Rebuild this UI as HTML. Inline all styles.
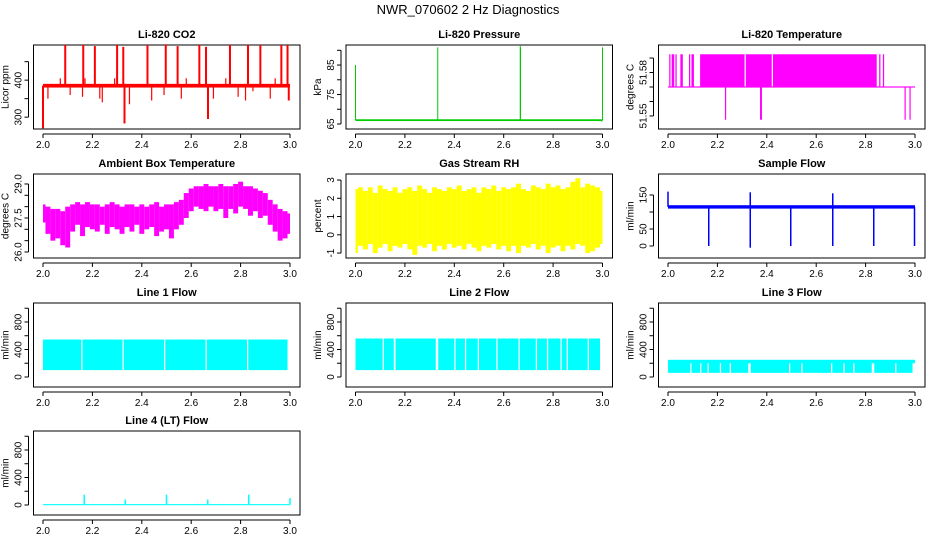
<!DOCTYPE html>
<html><head><meta charset="utf-8"><style>
html,body{margin:0;padding:0;background:#fff;}
svg{display:block;font-family:"Liberation Sans",Helvetica,Arial,sans-serif;}
</style></head><body>
<svg id="c" width="936" height="540" viewBox="0 0 936 540" xmlns="http://www.w3.org/2000/svg">
<text x="468" y="14" text-anchor="middle" font-size="13">NWR_070602  2 Hz Diagnostics</text>
</svg>
<script>
// ---- data ----
const xTicks=[2.0,2.2,2.4,2.6,2.8,3.0];
const xTickLabels=["2.0","2.2","2.4","2.6","2.8","3.0"];
const co2BaseLo=380, co2BaseHi=390;
const co2SpikeX=[2.0,2.09,2.163,2.21,2.30,2.325,2.33,2.423,2.497,2.545,2.633,2.66,2.668,2.757,2.83,2.88,2.965,2.99,2.995];
const co2SpikeV=[270,495,495,492,495,490,283,495,497,492,495,490,295,495,495,495,495,495,345];
const co2SmallX=[2.02,2.07,2.11,2.16,2.17,2.23,2.24,2.29,2.35,2.44,2.49,2.56,2.58,2.69,2.74,2.79,2.82,2.85,2.92,2.94];
const co2SmallV=[350,405,360,355,405,350,340,405,335,345,360,350,405,350,405,355,345,370,350,405];
const presBase=66.3;
const presSpikeX=[2.0,2.333,2.667,2.668,3.0,2.998];
const presSpikeV=[85,91,91.5,91,91,65.8];
const tempBase=51.560, tempTop=51.5713, tempLow=51.5487;
const tempBandStarts=[2.005,2.015,2.03,2.05,2.085,2.095,2.13,2.315,2.425,2.855,2.87];
const tempBandEnds=[2.01,2.025,2.035,2.06,2.09,2.105,2.31,2.42,2.845,2.86,2.875];
const tempDipX=[2.233,2.375,2.378,2.96,2.98];
const ambHi=[28.1,28.0,27.9,27.9,27.8,28.0,28.1,28.2,28.1,28.2,28.1,28.1,28.0,28.1,28.2,28.1,28.0,28.1,28.1,28.0,28.1,28.0,28.1,28.2,28.0,28.1,28.1,28.2,28.3,28.6,28.8,28.9,28.9,29.0,28.9,28.9,29.0,28.9,28.9,29.0,29.1,28.9,28.9,28.8,28.7,28.6,28.3,28.1,27.9,27.8,27.7];
const ambLo=[27.3,26.8,26.5,26.6,26.3,26.2,26.9,27.2,26.7,27.1,27.0,26.9,27.2,26.8,27.1,27.0,26.8,27.1,26.9,27.2,26.8,27.0,27.1,26.7,26.9,27.0,26.6,27.0,27.2,27.5,27.8,28.0,27.9,27.8,28.0,27.8,27.9,27.5,27.9,27.7,28.0,27.9,27.6,27.8,27.5,27.6,27.2,26.9,26.5,26.6,26.8];
const rhHi=[2.5,2.6,2.4,2.6,2.3,2.7,2.5,2.4,2.6,2.3,2.5,2.6,2.4,2.7,2.5,2.3,2.6,2.5,2.4,2.6,2.5,2.7,2.4,2.5,2.6,2.3,2.6,2.5,2.7,2.4,2.6,2.5,2.6,2.8,2.5,2.4,2.7,2.6,2.5,2.8,2.6,2.7,2.5,2.6,2.9,3.1,2.6,2.8,2.7,2.6,2.4];
const rhLo=[-1.0,-0.6,-0.8,-0.5,-1.0,-0.7,-0.5,-0.9,-0.6,-0.7,-0.5,-0.8,-1.1,-0.6,-0.7,-0.5,-0.9,-0.6,-0.8,-0.5,-0.7,-0.6,-0.8,-0.5,-0.7,-0.9,-0.6,-0.7,-0.5,-0.8,-0.6,-0.9,-0.6,-1.0,-0.6,-0.7,-0.5,-0.8,-0.6,-1.0,-0.7,-0.6,-0.9,-0.6,-0.8,-0.5,-0.6,-1.0,-0.9,-0.7,-0.5];
const sfBaseLo=110, sfBaseHi=120;
const sfDipX=[2.165,2.333,2.497,2.667,2.833,2.998];
const sfDipV=[0,-5,0,0,0,0];
const sfSpikeX=[2.0,2.333,2.667];
const sfSpikeV=[160,158,155];
const l1Starts=[2.0,2.16,2.327,2.495,2.663,2.831];
const l1Ends=[2.155,2.322,2.49,2.658,2.826,2.99];
const l1Lo=100, l1Hi=545;
const l2Starts=[2.0,2.115,2.162,2.335,2.405,2.448,2.5,2.575,2.665,2.735,2.78,2.835,2.86,2.945];
const l2Ends=[2.11,2.155,2.325,2.4,2.443,2.495,2.57,2.66,2.73,2.775,2.83,2.855,2.94,2.99];
const l2Lo=100, l2Hi=560;
const l3Starts=[2.0,2.095,2.135,2.165,2.215,2.255,2.335,2.495,2.545,2.665,2.715,2.755,2.835,2.925];
const l3Ends=[2.09,2.13,2.16,2.21,2.25,2.325,2.49,2.54,2.66,2.71,2.75,2.825,2.92,2.99];
const l3Lo=60, l3Hi=210, l3TopLo=200, l3TopHi=250;
const l4Base=5;
const l4SpikeX=[2.167,2.333,2.5,2.667,2.833,3.0];
const l4SpikeV=[150,80,150,80,150,100];

// ---- drawing ----
const svg=document.getElementById('c');
const NS='http://www.w3.org/2000/svg';
function mk(tag,attrs,parent){const e=document.createElementNS(NS,tag);for(const k in attrs)e.setAttribute(k,attrs[k]);(parent||svg).appendChild(e);return e;}
const colX=[33.5,346,658.5], rowY=[45,174,303,431], BW=266.5, BH=84;
function panel(col,row,title,ylab,ymin,ymax,yt,ytl,name){
  const x0=colX[col], y0=rowY[row], x1=x0+BW, y1=y0+BH;
  const g=mk('g',{});
  
  
  const P={g,x0,y0,x1,y1,
    sx:v=>x0+9.5+(v-2)*247,
    sy:v=>y1-(v-ymin)/(ymax-ymin)*BH};
  const t=mk('text',{x:(x0+x1)/2,y:y0-7,'text-anchor':'middle','font-size':11,'font-weight':'bold'},g);t.textContent=title;
  
  const r=mk('rect',{x:x0,y:y0,width:BW,height:BH,fill:'none',stroke:'#000','stroke-width':1},g);
  
  const xa=mk('g',{},g);
  mk('line',{x1:P.sx(2),x2:P.sx(3),y1:y1+5,y2:y1+5,stroke:'#000'},xa);
  xTicks.forEach((v,i)=>{const X=P.sx(v);mk('line',{x1:X,x2:X,y1:y1+5,y2:y1+9,stroke:'#000'},xa);
    const tx=mk('text',{x:X,y:y1+19,'text-anchor':'middle','font-size':10},xa);tx.textContent=xTickLabels[i];});
  const ya=mk('g',{},g);
  mk('line',{x1:x0-5,x2:x0-5,y1:P.sy(yt[0]),y2:P.sy(yt[yt.length-1]),stroke:'#000'},ya);
  yt.forEach((v,i)=>{const Y=P.sy(v);mk('line',{x1:x0-5,x2:x0-9,y1:Y,y2:Y,stroke:'#000'},ya);
    if(ytl[i]){const tx=mk('text',{x:0,y:0,'text-anchor':'middle','font-size':10,transform:`translate(${x0-12},${Y}) rotate(-90)`},ya);tx.textContent=ytl[i];}});
  const yl=mk('text',{x:0,y:0,'text-anchor':'middle','font-size':10,transform:`translate(${x0-25},${(y0+y1)/2}) rotate(-90)`},g);yl.textContent=ylab;
  
  P.data=mk('g',{},g);
  return P;
}
function vline(P,x,a,b,c,w){mk('line',{x1:P.sx(x),x2:P.sx(x),y1:P.sy(a),y2:P.sy(b),stroke:c,'stroke-width':w||1.2},P.data);}
function hband(P,xa,xb,a,b,c){const X=P.sx(xa),X2=P.sx(xb),Y=P.sy(b),Y2=P.sy(a);mk('rect',{x:X,y:Y,width:Math.max(0.8,X2-X),height:Math.max(1,Y2-Y),fill:c},P.data);}
function envelope(P,hi,lo,c){const n=hi.length;for(let i=0;i<n;i++){const xa=2+i/(n-1)-0.5/(n-1),xb=xa+1/(n-1);hband(P,Math.max(2,xa),Math.min(3,xb),lo[i],hi[i],c);}}

// CO2
let P=panel(0,0,'Li-820 CO2','Licor ppm',268,495,[300,350,400,450],['300','','400',''],'co2');
hband(P,2,3,co2BaseLo,co2BaseHi,'#f00');
co2SmallX.forEach((x,i)=>vline(P,x,385,co2SmallV[i],'#f00'));
co2SpikeX.forEach((x,i)=>vline(P,x,385,co2SpikeV[i],'#f00',2));
// Pressure
P=panel(1,0,'Li-820 Pressure','kPa',63.3,91.8,[65,70,75,80,85,90],['65','','75','','85',''],'pressure');
hband(P,2,3,presBase-0.3,presBase+0.3,'#0c0');
presSpikeX.forEach((x,i)=>vline(P,x,presBase,presSpikeV[i],'#0c0',1));
// Temperature
P=panel(2,0,'Li-820 Temperature','degrees C',51.5455,51.5745,[51.55,51.555,51.56,51.565,51.57],['51.55','','','51.58',''],'li820-temperature');
hband(P,2,3,tempBase-0.0002,tempBase+0.0002,'#f0f');
tempBandStarts.forEach((s,i)=>hband(P,s,tempBandEnds[i],tempBase,tempTop,'#f0f'));
tempDipX.forEach(x=>vline(P,x,tempBase,tempLow,'#f0f',1.2));
// Ambient
P=panel(0,1,'Ambient Box Temperature','degrees C',25.735,29.44,[26,26.5,27,27.5,28,28.5,29],['26.0','','','27.5','','','29.0'],'ambient-temperature');
envelope(P,ambHi,ambLo,'#f0f');
// RH
P=panel(1,1,'Gas Stream RH','percent',-1.27,3.33,[-1,0,1,2,3],['-1','0','1','2','3'],'gas-stream-rh');
envelope(P,rhHi,rhLo,'#ff0');
// Sample flow
P=panel(2,1,'Sample Flow','ml/min',-35.3,211.8,[0,50,100,150],['0','50','','150'],'sample-flow');
hband(P,2,3,sfBaseLo,sfBaseHi,'#00f');
sfDipX.forEach((x,i)=>vline(P,x,115,sfDipV[i],'#00f',1.5));
sfSpikeX.forEach((x,i)=>vline(P,x,115,sfSpikeV[i],'#00f',1.5));
// Line flows
const fT=[0,200,400,600,800,1000], fL=['0','','400','','800',''];
P=panel(0,2,'Line 1 Flow','ml/min',-145.5,1076,fT,fL,'line1-flow');
l1Starts.forEach((s,i)=>hband(P,s,l1Ends[i],l1Lo,l1Hi,'#0ff'));
P=panel(1,2,'Line 2 Flow','ml/min',-145.5,1076,fT,fL,'line2-flow');
l2Starts.forEach((s,i)=>hband(P,s,l2Ends[i],l2Lo,l2Hi,'#0ff'));
P=panel(2,2,'Line 3 Flow','ml/min',-145.5,1076,fT,fL,'line3-flow');
hband(P,2,3,l3TopLo,l3TopHi,'#0ff');
l3Starts.forEach((s,i)=>hband(P,s,l3Ends[i],l3Lo,l3Hi,'#0ff'));
P=panel(0,3,'Line 4 (LT) Flow','ml/min',-145.5,1076,fT,fL,'line4-flow');
hband(P,2,3,l4Base-8,l4Base+8,'#0ff');
l4SpikeX.forEach((x,i)=>vline(P,x,l4Base,l4SpikeV[i],'#0ff',1.5));
</script>
</body></html>
